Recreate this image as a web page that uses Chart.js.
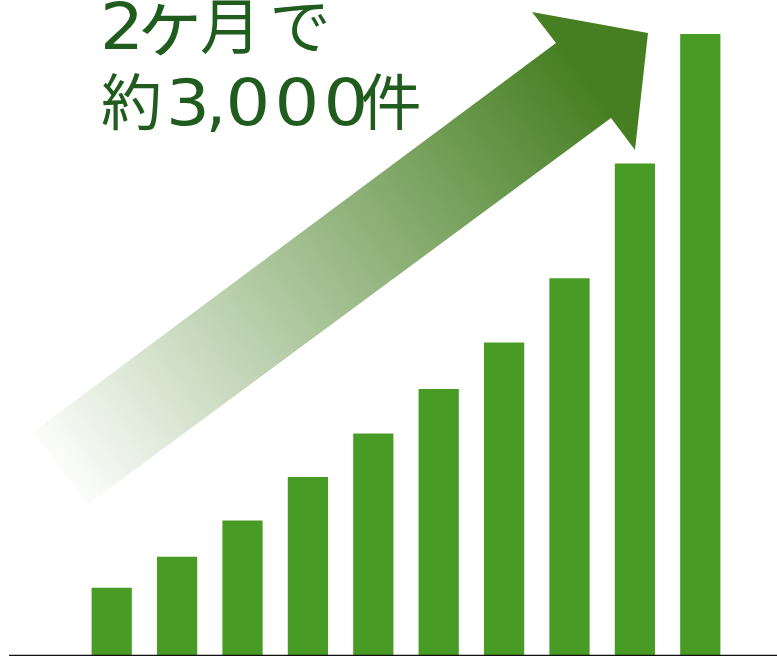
<!DOCTYPE html>
<html lang="ja">
<head>
<meta charset="utf-8">
<title>2ヶ月で約3,000件</title>
<script src="https://cdn.jsdelivr.net/npm/chart.js@4/dist/chart.umd.min.js"></script>
<style>
  html, body { margin: 0; padding: 0; background: #ffffff; }
  #wrap { position: relative; width: 777px; height: 656px; overflow: hidden; }
  #chart { position: absolute; left: 0; top: 0; }
  .headline { position: absolute; left: 0; width: 777px; height: 70px; pointer-events: none; }
  .headline span {
    position: absolute; top: 0;
    font-family: "DejaVu Sans", "Noto Sans CJK JP", sans-serif; font-size: 64px; line-height: 64px;
    color: #1f5c1e; white-space: pre; transform-origin: 50% 85%;
  }
  .headline span.cjk { font-size: 61px; top: 1px; }
</style>
</head>
<body>
<div id="wrap">
  <canvas id="chart" width="777" height="656"></canvas>
  <div class="headline" id="line1"></div>
  <div class="headline" id="line2"></div>
</div>
<script>
// Periods across the two months (not labelled on the chart)
const periods = ['1', '2', '3', '4', '5', '6', '7', '8', '9', '10'];
// Cumulative count at each period
const counts = [325, 475, 650, 860, 1070, 1285, 1510, 1820, 2375, 3000];
// Value axis range
const axisMin = 0;
const axisMax = 3000;

// Headline, one entry per glyph: character, horizontal centre, horizontal / vertical scale
const headline1 = [['2', 121.5, 1.08, 1], ['ヶ', 170, 1.22, 1.22], ['月', 230.5, 1, 1], ['で', 300, 1, 1]];
const headline2 = [['約', 131.5, 1, 1], ['3', 187.5, 1.08, 1], [',', 216, 1, 1], ['0', 247.5, 1.1, 1],
                   ['0', 296.5, 1.1, 1], ['0', 345.5, 1.1, 1], ['件', 391, 1, 1]];

function setLine(id, glyphs, top) {
  const el = document.getElementById(id);
  el.style.top = top + 'px';
  glyphs.forEach(([ch, cx, sx, sy]) => {
    const s = document.createElement('span');
    s.textContent = ch;
    if (/[^\x00-\x7f]/.test(ch)) s.className = 'cjk';
    s.style.left = cx + 'px';
    s.style.transform = 'translateX(-50%) scale(' + sx + ',' + sy + ')';
    el.appendChild(s);
  });
}
setLine('line1', headline1, -5);
setLine('line2', headline2, 71);

// Rising arrow behind the bars, fading in from the lower left
const risingArrow = {
  id: 'risingArrow',
  beforeDatasetsDraw(chart) {
    const ctx = chart.ctx;
    const g = ctx.createLinearGradient(50, 472, 580, 72);
    g.addColorStop(0, 'rgba(70,127,34,0)');
    g.addColorStop(1, 'rgba(70,127,34,1)');
    ctx.save();
    ctx.beginPath();
    ctx.moveTo(33, 432);
    ctx.lineTo(556, 43);
    ctx.lineTo(532, 12);
    ctx.lineTo(648, 33);
    ctx.lineTo(635, 150);
    ctx.lineTo(611, 118);
    ctx.lineTo(87, 505);
    ctx.closePath();
    ctx.fillStyle = g;
    ctx.fill();
    ctx.restore();
  }
};

// Baseline under the bars, running to the right edge
const baseLine = {
  id: 'baseLine',
  afterDatasetsDraw(chart) {
    const ctx = chart.ctx;
    const y = chart.scales.y.getPixelForValue(axisMin);
    ctx.save();
    ctx.strokeStyle = '#111111';
    ctx.lineWidth = 1.5;
    ctx.beginPath();
    ctx.moveTo(9, y + 0.5);
    ctx.lineTo(chart.width, y + 0.5);
    ctx.stroke();
    ctx.restore();
  }
};

new Chart(document.getElementById('chart'), {
  type: 'bar',
  data: {
    labels: periods,
    datasets: [{
      data: counts,
      backgroundColor: '#489b24',
      borderWidth: 0,
      barPercentage: 0.615,
      categoryPercentage: 1
    }]
  },
  options: {
    responsive: false,
    animation: false,
    layout: { padding: { left: 79, right: 44, top: 34, bottom: 1 } },
    plugins: { legend: { display: false }, tooltip: { enabled: false }, title: { display: false } },
    scales: {
      x: { display: false },
      y: { display: false, min: axisMin, max: axisMax }
    }
  },
  plugins: [risingArrow, baseLine]
});
</script>
</body>
</html>
